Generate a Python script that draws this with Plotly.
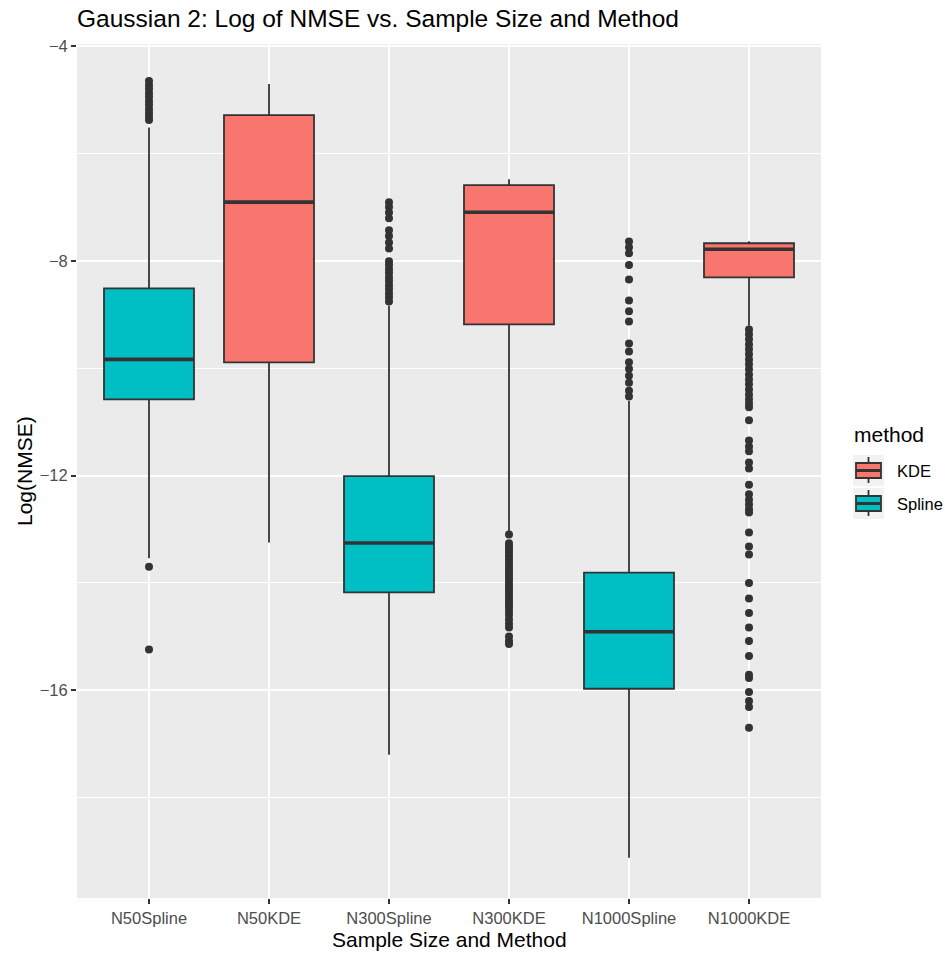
import plotly.graph_objects as go

# Box summaries (log NMSE) per sample-size / method group
categories = ["N50Spline", "N50KDE", "N300Spline", "N300KDE", "N1000Spline", "N1000KDE"]
methods = ["Spline", "KDE", "Spline", "KDE", "Spline", "KDE"]
q1 = [-10.583, -9.893, -14.176, -9.184, -15.972, -8.308]
median = [-9.837, -6.909, -13.256, -7.096, -14.909, -7.786]
q3 = [-8.513, -5.287, -12.013, -6.592, -13.809, -7.674]
lower_whisker = [-13.54, -13.25, -17.20, -13.04, -19.12, -9.21]
upper_whisker = [-5.52, -4.71, -8.84, -6.48, -10.61, -7.636]

# Outlying observations beyond 1.5 * IQR
out_n50_spline = [-4.65, -4.73, -4.80, -4.88, -4.95, -5.03, -5.10, -5.18, -5.25,
                  -5.32, -5.38, -13.70, -15.24]
out_n50_kde = []
out_n300_spline = [-6.91, -7.00, -7.10, -7.21, -7.43, -7.54, -7.66, -7.77, -8.01,
                   -8.08, -8.16, -8.23, -8.31, -8.38, -8.46, -8.53, -8.61, -8.68, -8.76]
out_n300_kde = [-13.10, -13.26, -13.32, -13.38, -13.44, -13.50, -13.56, -13.62, -13.68,
                -13.74, -13.80, -13.86, -13.92, -13.98, -14.04, -14.10, -14.16, -14.22,
                -14.28, -14.34, -14.40, -14.46, -14.53, -14.60, -14.68, -14.76, -14.83,
                -15.00, -15.08, -15.14]
out_n1000_spline = [-7.64, -7.75, -7.86, -8.08, -8.35, -8.74, -8.94, -9.13, -9.54,
                    -9.69, -9.89, -10.01, -10.14, -10.27, -10.42, -10.53]
out_n1000_kde = [-9.28, -9.37, -9.46, -9.56, -9.65, -9.74, -9.84, -9.93, -10.02,
                 -10.12, -10.21, -10.30, -10.40, -10.49, -10.58, -10.66, -10.73, -10.97,
                 -11.35, -11.46, -11.55, -11.76, -11.87, -12.17, -12.35, -12.45, -12.54,
                 -12.63, -12.69, -13.06, -13.32, -13.47, -14.00, -14.29, -14.56, -14.83,
                 -15.08, -15.36, -15.71, -15.77, -16.03, -16.20, -16.31, -16.70]
outliers = [out_n50_spline, out_n50_kde, out_n300_spline, out_n300_kde,
            out_n1000_spline, out_n1000_kde]

y_ticks = [-16, -12, -8, -4]
y_minor = [-18, -14, -10, -6]

colors = {"KDE": "#F8766D", "Spline": "#00BFC4"}
INK = "#333333"
FONT = "Liberation Sans, Arial, sans-serif"
BOX_W = 0.75

positions = list(range(1, len(categories) + 1))
fig = go.Figure()

for m in ["KDE", "Spline"]:
    idx = [i for i, mm in enumerate(methods) if mm == m]
    fig.add_trace(go.Box(
        x=[positions[i] for i in idx],
        q1=[q1[i] for i in idx],
        median=[median[i] for i in idx],
        q3=[q3[i] for i in idx],
        lowerfence=[lower_whisker[i] for i in idx],
        upperfence=[upper_whisker[i] for i in idx],
        width=BOX_W,
        whiskerwidth=0,
        boxpoints=False,
        fillcolor=colors[m],
        line=dict(color=INK, width=1.8),
        name=m,
        showlegend=False,
        hoverinfo="skip",
    ))

# Thicker median bars, as in a ggplot boxplot
mx, my = [], []
for p, med in zip(positions, median):
    mx += [p - BOX_W / 2, p + BOX_W / 2, None]
    my += [med, med, None]
fig.add_trace(go.Scatter(x=mx, y=my, mode="lines", line=dict(color=INK, width=3.6),
                         showlegend=False, hoverinfo="skip"))

# Outlier points
ox, oy = [], []
for p, pts in zip(positions, outliers):
    ox += [p] * len(pts)
    oy += pts
fig.add_trace(go.Scatter(x=ox, y=oy, mode="markers",
                         marker=dict(color=INK, size=8, line=dict(width=0)),
                         showlegend=False, hoverinfo="skip"))

# Plot area geometry in pixels (used for the hand-built legend)
W, H = 945, 953
L_M, R_M, T_M, B_M = 77, 124, 44, 55
pw = W - L_M - R_M
ph = H - T_M - B_M


def px_x(px):
    return (px - L_M) / pw


def px_y(py):
    return (H - B_M - py) / ph


shapes = []
annotations = []

# Legend: title, keys with mini boxplots, labels
annotations.append(dict(text="method", xref="paper", yref="paper", x=px_x(852), y=px_y(435),
                        xanchor="left", yanchor="middle", showarrow=False,
                        font=dict(family=FONT, size=21, color="black")))
for k, (m, top) in enumerate([("KDE", 455), ("Spline", 488)]):
    x0, x1 = px_x(853), px_x(884)
    shapes.append(dict(type="rect", xref="paper", yref="paper", x0=x0, x1=x1,
                       y0=px_y(top + 31), y1=px_y(top), fillcolor="#F2F2F2",
                       line=dict(width=0), layer="above"))
    cx = px_x(868.5)
    shapes.append(dict(type="line", xref="paper", yref="paper", x0=cx, x1=cx,
                       y0=px_y(top + 28), y1=px_y(top + 2),
                       line=dict(color=INK, width=1.8), layer="above"))
    shapes.append(dict(type="rect", xref="paper", yref="paper", x0=px_x(856), x1=px_x(881),
                       y0=px_y(top + 23), y1=px_y(top + 8), fillcolor=colors[m],
                       line=dict(color=INK, width=1.8), layer="above"))
    shapes.append(dict(type="line", xref="paper", yref="paper", x0=px_x(856), x1=px_x(881),
                       y0=px_y(top + 15.5), y1=px_y(top + 15.5),
                       line=dict(color=INK, width=3), layer="above"))
    annotations.append(dict(text=m, xref="paper", yref="paper", x=px_x(895),
                            y=px_y(top + 16), xanchor="left", yanchor="middle",
                            showarrow=False, font=dict(family=FONT, size=16.5, color="black")))

# Axis titles
annotations.append(dict(text="Sample Size and Method", xref="paper", yref="paper",
                        x=0.5, y=px_y(939), xanchor="center", yanchor="middle",
                        showarrow=False, font=dict(family=FONT, size=21, color="black")))
annotations.append(dict(text="Log(NMSE)", xref="paper", yref="paper",
                        x=px_x(24), y=0.5, xanchor="center", yanchor="middle",
                        textangle=-90, showarrow=False,
                        font=dict(family=FONT, size=21, color="black")))

fig.update_layout(
    width=W, height=H,
    margin=dict(l=L_M, r=R_M, t=T_M, b=B_M, pad=0),
    paper_bgcolor="white",
    plot_bgcolor="#EBEBEB",
    boxmode="overlay",
    showlegend=False,
    font=dict(family=FONT),
    title=dict(text="Gaussian 2: Log of NMSE vs. Sample Size and Method",
               x=L_M / W, xanchor="left", xref="container",
               y=1 - 18 / H, yanchor="middle", yref="container",
               font=dict(family=FONT, size=24.5, color="black")),
    shapes=shapes,
    annotations=annotations,
    xaxis=dict(
        range=[0.4, len(categories) + 0.6],
        tickmode="array", tickvals=positions, ticktext=categories,
        showgrid=True, gridcolor="white", gridwidth=2,
        zeroline=False, showline=False,
        ticks="outside", ticklen=5, tickwidth=1.5, tickcolor=INK,
        tickfont=dict(family=FONT, size=16.5, color="#4D4D4D"),
    ),
    yaxis=dict(
        range=[-19.869, -3.963],
        tickmode="array", tickvals=y_ticks,
        showgrid=True, gridcolor="white", gridwidth=2,
        minor=dict(tickmode="array", tickvals=y_minor, showgrid=True,
                   gridcolor="white", gridwidth=1, ticks=""),
        zeroline=False, showline=False,
        ticks="outside", ticklen=5, tickwidth=1.5, tickcolor=INK,
        tickfont=dict(family=FONT, size=16.5, color="#4D4D4D"),
    ),
)

fig.write_html("out.html")
